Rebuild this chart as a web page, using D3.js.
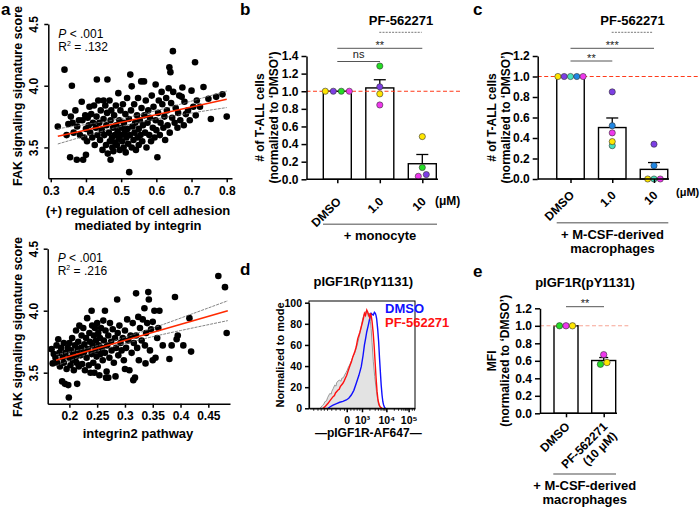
<!DOCTYPE html>
<html><head><meta charset="utf-8">
<script src="https://cdn.jsdelivr.net/npm/d3@7"></script>
<style>body{margin:0;background:#fff}svg{display:block}text{font-family:"Liberation Sans",Arial,Helvetica,sans-serif}</style>
</head><body>
<svg id="chart" width="700" height="508"></svg>
<script>
// ---------------- DATA ----------------
// panel a (top): (+) regulation of cell adhesion mediated by integrin vs FAK signature
const adhesionPts = [
[0.32,3.67],[0.339,4.13],[0.34,3.78],[0.345,3.60],[0.35,3.69],[0.355,3.42],[0.357,3.75],[0.36,4.0],[0.362,3.70],[0.365,3.62],
[0.37,3.80],[0.374,3.40],[0.375,3.67],[0.38,3.72],[0.383,3.60],[0.388,3.87],[0.39,3.72],[0.392,3.40],[0.395,3.58],[0.398,3.76],
[0.40,3.44],[0.40,3.65],[0.403,3.55],[0.405,3.74],[0.408,3.68],[0.41,3.83],[0.412,3.62],[0.415,3.77],[0.418,3.58],[0.42,3.70],
[0.423,3.84],[0.425,3.52],[0.428,3.66],[0.43,3.75],[0.431,4.05],[0.433,3.60],[0.435,3.88],[0.438,3.70],[0.44,3.56],[0.442,3.80],
[0.445,3.64],[0.447,3.48],[0.45,3.73],[0.45,3.88],[0.452,3.60],[0.455,3.84],[0.457,3.52],[0.458,3.68],[0.46,3.78],[0.461,4.05],
[0.462,3.45],[0.465,3.62],[0.467,3.88],[0.468,3.55],[0.47,3.40],[0.47,3.72],[0.472,3.80],[0.474,3.58],[0.475,3.50],[0.477,3.66],
[0.478,3.47],[0.48,3.76],[0.482,3.60],[0.483,3.54],[0.485,3.84],[0.486,3.68],[0.488,3.52],[0.49,3.63],[0.492,3.94],[0.493,3.57],
[0.495,3.72],[0.496,3.48],[0.498,3.80],[0.50,3.60],[0.502,3.66],[0.503,3.55],[0.505,3.85],[0.507,3.50],[0.508,3.70],[0.51,3.62],
[0.512,3.77],[0.513,3.46],[0.515,3.58],[0.517,3.90],[0.518,3.65],[0.52,3.53],[0.522,3.73],[0.523,3.30],[0.525,3.60],[0.526,4.09],
[0.528,3.80],[0.53,3.995],[0.53,3.50],[0.532,3.67],[0.535,3.56],[0.537,3.85],[0.538,3.62],[0.54,3.70],[0.542,3.48],[0.545,3.76],
[0.547,3.58],[0.548,3.90],[0.55,3.65],[0.55,3.52],[0.553,3.72],[0.555,3.60],[0.557,4.035],[0.558,3.82],[0.56,3.55],[0.562,3.68],
[0.565,4.035],[0.566,3.76],[0.568,3.62],[0.57,3.88],[0.572,3.50],[0.575,3.70],[0.577,3.80],[0.58,3.60],[0.582,3.74],[0.585,3.55],
[0.587,3.92],[0.59,3.66],[0.592,3.83],[0.595,3.58],[0.598,4.01],[0.598,3.72],[0.60,3.64],[0.603,3.42],[0.605,3.78],[0.607,3.88],
[0.61,3.60],[0.612,3.70],[0.615,3.95],[0.617,3.85],[0.62,3.66],[0.623,3.75],[0.625,3.56],[0.628,3.90],[0.63,3.80],[0.632,3.68],
[0.635,3.98],[0.637,4.15],[0.638,3.62],[0.64,4.11],[0.642,3.86],[0.645,3.74],[0.647,4.28],[0.648,3.95],[0.652,3.70],[0.655,3.82],
[0.66,3.66],[0.662,3.78],[0.665,3.92],[0.668,3.72],[0.672,3.91],[0.674,3.985],[0.678,3.68],[0.68,3.87],[0.684,3.77],[0.69,3.80],
[0.695,3.72],[0.70,3.96],[0.705,3.83],[0.71,4.19],[0.712,3.76],[0.715,3.88],[0.724,3.83],[0.734,3.99],[0.748,3.895],[0.755,3.73],
[0.77,3.91],[0.788,3.93],[0.80,3.75]
];
const adhesionFit = [[0.32,3.59],[0.80,3.89]];
const adhesionUpper = [[0.32,3.652],[0.43,3.699],[0.53,3.751],[0.65,3.836],[0.80,3.957]];
const adhesionLower = [[0.32,3.528],[0.43,3.619],[0.53,3.691],[0.65,3.756],[0.80,3.823]];
const adhesionXTicks = [0.3,0.4,0.5,0.6,0.7,0.8];
const scoreYTicks = [3.5,4.0,4.5];

// panel a (bottom): integrin2 pathway vs FAK signature
const integrinPts = [
[0.168,3.69],[0.170,3.575],[0.172,3.65],[0.175,3.62],[0.177,3.72],[0.178,3.58],[0.18,3.77],[0.182,3.66],[0.183,3.55],[0.185,3.70],
[0.187,3.43],[0.188,3.62],[0.19,3.74],[0.19,3.58],[0.192,3.41],[0.193,3.66],[0.195,3.53],[0.197,3.70],[0.198,3.40],[0.199,3.30],
[0.20,3.62],[0.20,3.74],[0.202,3.56],[0.203,3.68],[0.205,3.78],[0.206,3.60],[0.207,3.65],[0.208,3.52],[0.21,3.72],[0.211,3.62],
[0.212,3.84],[0.213,3.58],[0.214,3.41],[0.215,3.68],[0.216,3.75],[0.217,3.55],[0.218,3.88],[0.22,3.64],[0.221,3.70],[0.222,3.80],
[0.223,3.57],[0.225,3.86],[0.226,3.66],[0.227,3.73],[0.228,3.52],[0.23,3.78],[0.231,3.62],[0.232,3.94],[0.233,3.69],[0.235,3.56],
[0.236,3.82],[0.237,3.75],[0.238,3.50],[0.24,4.0],[0.24,3.65],[0.241,3.88],[0.242,3.72],[0.243,3.58],[0.244,3.80],[0.245,3.50],
[0.246,3.86],[0.247,3.68],[0.248,3.76],[0.249,3.63],[0.25,3.90],[0.251,3.55],[0.252,3.82],[0.253,3.72],[0.254,3.48],[0.255,3.78],
[0.256,3.65],[0.257,3.86],[0.258,3.70],[0.26,3.60],[0.261,3.92],[0.262,3.76],[0.264,4.0],[0.264,3.66],[0.265,3.84],[0.266,3.46],
[0.267,3.51],[0.268,3.72],[0.27,3.80],[0.27,3.46],[0.272,3.62],[0.273,3.90],[0.275,3.75],[0.276,3.68],[0.278,3.85],[0.28,3.58],
[0.282,3.78],[0.283,3.47],[0.284,3.70],[0.286,4.09],[0.287,3.82],[0.288,3.64],[0.29,3.88],[0.292,3.74],[0.294,3.68],[0.296,3.78],
[0.298,3.60],[0.30,3.53],[0.30,3.84],[0.302,3.70],[0.304,3.93],[0.306,3.76],[0.308,3.52],[0.31,3.80],[0.312,3.66],[0.314,3.90],
[0.315,3.44],[0.316,3.74],[0.318,3.46],[0.32,4.14],[0.32,3.80],[0.322,3.70],[0.324,3.95],[0.325,3.60],[0.327,3.86],[0.33,3.76],
[0.332,3.93],[0.335,4.02],[0.336,3.72],[0.337,3.575],[0.338,3.82],[0.34,3.90],[0.342,4.15],[0.343,4.09],[0.345,3.68],[0.347,3.85],
[0.35,3.91],[0.35,3.60],[0.353,4.0],[0.355,3.62],[0.358,3.78],[0.36,3.86],[0.362,4.0],[0.368,3.72],[0.38,3.61],[0.384,3.72],
[0.39,4.11],[0.393,3.77],[0.395,3.80],[0.405,3.72],[0.416,3.94],[0.419,3.67],[0.468,4.28],[0.48,4.19],[0.483,3.82]
];
const integrinFit = [[0.176,3.60],[0.485,4.0]];
const integrinUpper = [[0.176,3.645],[0.22,3.685],[0.26,3.731],[0.33,3.829],[0.40,3.94],[0.485,4.08]];
const integrinLower = [[0.176,3.555],[0.22,3.629],[0.26,3.687],[0.33,3.769],[0.40,3.84],[0.485,3.92]];
const integrinXTicks = [0.2,0.25,0.3,0.35,0.4,0.45];

// panel b: + monocyte
const concCats = ["DMSO","1.0","10"];
const monoDonors = ["yellow","purple","green","magenta"];
const monoValues = [ // per donor: DMSO, 1.0, 10
  [1,0.97,0.485],
  [1,1.05,0.054],
  [1,1.286,0.134],
  [1,0.844,0.034]
];
const monoTicks = [0,0.2,0.4,0.6,0.8,1.0,1.2,1.4];

// panel c: + M-CSF-derived macrophages
const macroDonors = ["yellow","purple","teal","blue","magenta"];
const macroValues = [
  [1,0.365,0],
  [1,0.85,0.34],
  [1,0.325,0],
  [1,0.52,0.13],
  [1,0.45,0]
];
const macroTicks = [0,0.2,0.4,0.6,0.8,1.0,1.2];

// panel d: flow histogram (x in display channel units, y % of mode)
const isoHist = [[10.3,0],[12.5,2.5],[14,4],[15,6.3],[16.5,7],[17.5,10],[19.6,14],[21,13.5],[21.5,16],[23,19],[24.3,22],[25.5,21],[26,24],
 [27.5,26],[29,26.8],[30,25.5],[31,28.5],[32.5,29],[33.6,31.5],[35,34],[36,36],[37.2,39],[38.3,41],[40,45],[41.4,48.9],[43,52],[44.6,56.8],
 [46,62],[47.7,69.4],[49,76],[50.7,85],[52,89],[53.9,92],[55,91],[56,87],[57,90],[58,82],[58.6,75.7],[59.5,62],[60.7,44],[62,30],[63.3,19],
 [64.5,10],[65.7,3],[68,0]];
const pf562271Hist = [[13.4,0],[15.5,2],[18,4.7],[20,7.5],[22.7,11],[24,12],[25,14.5],[27.4,17.3],[28.5,18],[29.5,20.5],[32,23.7],[33.2,26],
 [34.5,29],[35.5,31],[36.7,34.7],[38.5,40],[40,44],[41.4,48.9],[43,53],[44.5,58],[46,66],[48,72],[50.2,80.5],[51.3,85],[52.3,90],[53.3,88],
 [54.5,93],[55.5,91],[56.4,88],[57.2,86],[58,90],[58.8,87],[59.5,82],[60.5,72],[61.4,60],[62.3,45],[63.3,28.4],[64.2,16],[65.1,7.9],[66,4],
 [67,1.5],[68.9,0]];
const dmsoHist = [[18,0],[20,1.5],[22.7,3.1],[26,4.5],[29,5.7],[32,6.5],[35.2,7.9],[37.5,9.5],[39.9,12.6],[42.3,17],[44.6,23.7],[47,31],
 [49.3,39.4],[51,50],[52.3,60],[53.4,66],[54.5,72.5],[55.8,78],[57,83.6],[57.8,87],[58.6,90],[59.6,89],[60.7,88.4],[61.7,91],[62.6,90],
 [63.2,88],[63.8,85],[64.8,75],[65.7,63],[66.5,48],[67.3,34.7],[68.1,22],[68.9,12.6],[69.7,6],[70.4,3.1],[71.2,1],[72,0]];
const flowMajorTicks = [35.6,50,73,94];
const flowMajorLabels = ["0","10³","10⁴","10⁵"];
const flowMinorTicks = [4,8,11,14,17,21,25,29,33,39,42,45,47.5,57,62,65,67.5,69.5,71,72.3,80,84,87,89,90.5,91.8,92.8,97,99];
const flowYTicks = [0,20,40,60,80,100];

// panel e: pIGF1R MFI
const mfiCats = ["DMSO","PF-562271\n(10 μM)"];
const mfiDonors = ["green","magenta","yellow"];
const mfiValues = [
  [1,0.56],
  [1,0.67],
  [1,0.58]
];
const mfiTicks = [0,0.2,0.4,0.6,0.8,1.0,1.2];

const donorColor = {yellow:"#ffe600",purple:"#7d3fe4",green:"#25dd25",magenta:"#ee38ec",blue:"#1f86e2",teal:"#47e2bc"};

// ---------------- DRAW ----------------
const FONT = '"Liberation Sans",Arial,Helvetica,sans-serif';
const svg = d3.select("#chart");

function txt(g, x, y, s, o={}) {
  const t = g.append("text").attr("x",x).attr("y",y).text(s)
    .attr("font-size",o.size||12).attr("font-weight",o.weight||"bold")
    .attr("text-anchor",o.anchor||"start").attr("fill",o.fill||"#000");
  if (o.rotate) t.attr("transform",`rotate(${o.rotate},${x},${y})`);
  if (o.style) t.attr("font-style",o.style);
  return t;
}
function styleAxis(a, size) {
  a.select(".domain").attr("stroke","#000").attr("stroke-width",1.5);
  a.selectAll(".tick line").attr("stroke","#000").attr("stroke-width",1.5);
  a.selectAll(".tick text").attr("font-family",FONT).attr("font-weight","bold").attr("font-size",size).attr("fill","#000");
}

// panel letters
[["a",1,15],["b",240,15],["c",473,15],["d",240,275],["e",473,277]].forEach(([s,x,y])=>txt(svg,x,y,s,{size:17}));

function scatterPanel(o){
  const g = svg.append("g");
  const x = d3.scaleLinear().domain(o.xDom).range(o.xRange);
  const y = d3.scaleLinear().domain(o.yDom).range(o.yRange);
  g.selectAll("circle").data(o.pts).join("circle")
    .attr("cx",d=>x(d[0])).attr("cy",d=>y(d[1])).attr("r",3.3).attr("fill","#000");
  const band = d3.line().curve(d3.curveNatural).x(d=>x(d[0])).y(d=>y(d[1]));
  [o.up,o.lo].forEach(b=>g.append("path").datum(b).attr("d",band).attr("fill","none")
    .attr("stroke","#666").attr("stroke-width",0.8).attr("stroke-dasharray","3,1"));
  g.append("path").datum(o.fit).attr("d",d3.line().x(d=>x(d[0])).y(d=>y(d[1])))
    .attr("stroke","#ff2a00").attr("stroke-width",1.6).attr("fill","none");
  const ax = g.append("g").attr("transform",`translate(0,${o.yRange[0]})`)
    .call(d3.axisBottom(x).tickValues(o.xTicks).tickFormat(d=>String(d)).tickSize(4).tickSizeOuter(0).tickPadding(4));
  styleAxis(ax,12);
  const ay = g.append("g").attr("transform",`translate(${o.xRange[0]},0)`)
    .call(d3.axisLeft(y).tickValues(scoreYTicks).tickFormat(d3.format(".1f")).tickSize(4).tickSizeOuter(0));
  styleAxis(ay,12);
  ay.selectAll(".tick text").attr("x",0).attr("y",-10).attr("dy",0).attr("text-anchor","middle").attr("transform","rotate(-90)");
  const px = o.xRange[0]+10;
  txt(g,px,o.pY,"",{size:12,weight:"normal"}).call(t=>{
    t.append("tspan").attr("font-style","italic").text("P");
    t.append("tspan").text(" < .001");
  });
  txt(g,px,o.pY+13,"",{size:12,weight:"normal"}).call(t=>{
    t.append("tspan").text("R");
    t.append("tspan").attr("font-size",7).attr("dy",-5).text("2");
    t.append("tspan").attr("dy",5).text(" = "+o.r2);
  });
  txt(g,21.5,o.yTitleC,"FAK signaling signature score",{size:12.5,anchor:"middle",rotate:-90});
  o.xTitle.forEach((s,i)=>txt(g,138,o.xTitleY+i*15,s,{size:13,anchor:"middle"}));
}

scatterPanel({pts:adhesionPts,fit:adhesionFit,up:adhesionUpper,lo:adhesionLower,
  xDom:[0.293,0.815],xRange:[48.3,232],yDom:[3.25,4.5],yRange:[178.3,24],xTicks:adhesionXTicks,
  pY:38,r2:".132",yTitleC:96,xTitle:["(+) regulation of cell adhesion","mediated by integrin"],xTitleY:214.5});
scatterPanel({pts:integrinPts,fit:integrinFit,up:integrinUpper,lo:integrinLower,
  xDom:[0.161,0.489],xRange:[47.7,230],yDom:[3.25,4.5],yRange:[403.7,248.7],xTicks:integrinXTicks,
  pY:262,r2:".216",yTitleC:327,xTitle:["integrin2 pathway"],xTitleY:438});

function swarm(items, y, thresh, spacing){
  const s = items.slice().sort((a,b)=>a.v-b.v || a.i-b.i);
  const rows=[];
  s.forEach(d=>{
    const last = rows[rows.length-1];
    if (last && Math.abs(y(last[0].v)-y(d.v))<=thresh) last.push(d); else rows.push([d]);
  });
  rows.forEach(r=>r.forEach((d,k)=>d.off=(k-(r.length-1)/2)*spacing));
  return s;
}

function barPanel(o){
  const g = svg.append("g");
  const x = d3.scalePoint().domain(o.cats).range(o.centers);
  const y = d3.scaleLinear().domain([0,o.yMax]).range([o.y0,o.yTop]);
  const groups = o.cats.map((c,ci)=>o.values.map((row,di)=>({v:row[ci],c:o.donors[di],i:di})));
  const means = groups.map(gr=>d3.mean(gr,d=>d.v));
  const sems = groups.map(gr=>(d3.deviation(gr,d=>d.v)||0)/Math.sqrt(gr.length));
  g.selectAll("rect").data(o.cats).join("rect")
    .attr("x",c=>x(c)-o.barW/2).attr("y",(c,i)=>y(means[i])).attr("width",o.barW)
    .attr("height",(c,i)=>o.y0-y(means[i])).attr("fill","#fff").attr("stroke","#000").attr("stroke-width",1.4);
  o.cats.forEach((c,i)=>{
    if (sems[i] < 0.005) return;
    const cx = x(c), top = y(means[i]+sems[i]);
    g.append("line").attr("x1",cx).attr("x2",cx).attr("y1",y(means[i])).attr("y2",top).attr("stroke","#000").attr("stroke-width",1.3);
    g.append("line").attr("x1",cx-o.cap/2).attr("x2",cx+o.cap/2).attr("y1",top).attr("y2",top).attr("stroke","#000").attr("stroke-width",1.3);
  });
  g.append("line").attr("x1",o.yAxisX).attr("x2",o.refEnd).attr("y1",y(1)).attr("y2",y(1))
    .attr("stroke",o.refColor).attr("stroke-width",1.1).attr("stroke-dasharray","4,2.5");
  groups.forEach((gr,ci)=>{
    swarm(gr,y,3,o.spacing).forEach(d=>{
      g.append("circle").attr("cx",x(o.cats[ci])+d.off).attr("cy",y(d.v)).attr("r",o.r)
        .attr("fill",donorColor[d.c]).attr("stroke","#333").attr("stroke-width",0.6);
    });
  });
  // axes
  const ay = g.append("g").attr("transform",`translate(${o.yAxisX},0)`)
    .call(d3.axisLeft(y).tickValues(o.ticks).tickFormat(d3.format(".1f")).tickSize(5).tickSizeOuter(0).tickPadding(3));
  styleAxis(ay,12);
  g.append("line").attr("x1",o.yAxisX).attr("x2",o.xAxisEnd).attr("y1",o.y0).attr("y2",o.y0).attr("stroke","#000").attr("stroke-width",1.5);
  const ax = g.append("g").attr("transform",`translate(0,${o.y0})`)
    .call(d3.axisBottom(x).tickSize(4).tickSizeOuter(0));
  ax.select(".domain").remove();
  styleAxis(ax,12);
  ax.selectAll(".tick text").each(function(d){
    const t = d3.select(this).text(null).attr("x",0).attr("y",0).attr("dy",0).attr("text-anchor","end")
      .attr("transform",`translate(${o.lblDx},${o.lblDy}) rotate(-45)`);
    d.split("\n").forEach((s,k)=>t.append("tspan").attr("x",0).attr("dy",k?"1.1em":0).text(s));
  });
  return {g,x,y};
}

function bracket(g,x1,x2,y,label){
  g.append("line").attr("x1",x1).attr("x2",x2).attr("y1",y).attr("y2",y).attr("stroke","#555").attr("stroke-width",1);
  const ns = label==="ns";
  txt(g,(x1+x2)/2,ns?y-4:y+0.5,label,{size:11,weight:"normal",anchor:"middle",fill:"#222"});
}
function dashed(g,x1,x2,y){
  g.append("line").attr("x1",x1).attr("x2",x2).attr("y1",y).attr("y2",y).attr("stroke","#777").attr("stroke-width",1).attr("stroke-dasharray","2,1.2");
}
function groupLabel(g,x1,x2,y,lines){
  g.append("line").attr("x1",x1).attr("x2",x2).attr("y1",y).attr("y2",y).attr("stroke","#888").attr("stroke-width",1.6);
  lines.forEach((s,i)=>txt(g,(x1+x2)/2,y+16+i*14,s,{size:13,anchor:"middle"}));
}

// panel b
const pb = barPanel({cats:concCats,donors:monoDonors,values:monoValues,centers:[337.3,422.3],yMax:1.4,y0:179.3,yTop:56,
  barW:28,cap:12,r:3.1,spacing:8,yAxisX:306.5,xAxisEnd:438,refEnd:462,refColor:"#ff3a1a",ticks:monoTicks,lblDx:4,lblDy:23});
txt(pb.g,401,25,"PF-562271",{size:13,anchor:"middle"});
dashed(pb.g,379.3,421.7,32.3);
bracket(pb.g,337.3,422.3,48.3,"**");
bracket(pb.g,337.3,380,61.5,"ns");
txt(pb.g,435,205,"(μM)",{size:12});
txt(pb.g,264.5,117.6,"# of T-ALL cells",{size:12,anchor:"middle",rotate:-90});
txt(pb.g,277.8,117.6,"(normalized to ‘DMSO’)",{size:12,anchor:"middle",rotate:-90});
groupLabel(pb.g,323,437,224.3,["+ monocyte"]);

// panel c
const pc = barPanel({cats:concCats,donors:macroDonors,values:macroValues,centers:[570.5,654],yMax:1.2,y0:179,yTop:56,
  barW:27.5,cap:12,r:3.1,spacing:6.3,yAxisX:537.7,xAxisEnd:669,refEnd:700,refColor:"#ff3a1a",ticks:macroTicks,lblDx:4,lblDy:17});
txt(pc.g,632.5,25,"PF-562271",{size:13,anchor:"middle"});
dashed(pc.g,611.7,653.3,32.3);
bracket(pc.g,570.5,654,48.3,"***");
bracket(pc.g,570.5,612.3,61,"**");
txt(pc.g,676,196,"(μM)",{size:11});
txt(pc.g,496,117.5,"# of T-ALL cells",{size:12,anchor:"middle",rotate:-90});
txt(pc.g,509.5,117.5,"(normalized to ‘DMSO’)",{size:12,anchor:"middle",rotate:-90});
groupLabel(pc.g,556.7,668.3,222.7,["+ M-CSF-derived","macrophages"]);

// panel e
const pe = barPanel({cats:mfiCats,donors:mfiDonors,values:mfiValues,centers:[566,603.7],yMax:1.2,y0:413.3,yTop:308.3,
  barW:24,cap:9,r:3.2,spacing:6.5,yAxisX:540,xAxisEnd:617,refEnd:628.3,refColor:"#f7a595",ticks:mfiTicks,lblDx:4,lblDy:14});
txt(pe.g,585,287,"pIGF1R(pY1131)",{size:13,anchor:"middle"});
bracket(pe.g,566,604,306.7,"**");
txt(pe.g,496,360.8,"MFI",{size:12,anchor:"middle",rotate:-90});
txt(pe.g,509.5,360.8,"(normalized to ‘DMSO’)",{size:12,anchor:"middle",rotate:-90});
groupLabel(pe.g,553.3,616,474,["+ M-CSF-derived","macrophages"]);

// panel d
(function(){
  const g = svg.append("g");
  const L=309,R=415,T=301,B=408.3;
  const x = d3.scaleLinear().domain([0,100]).range([L,R]);
  const y = d3.scaleLinear().domain([0,100]).range([B,302.7]);
  const area = d3.area().x(d=>x(d[0])).y0(B).y1(d=>y(d[1]));
  const line = d3.line().x(d=>x(d[0])).y(d=>y(d[1]));
  g.append("path").datum(isoHist).attr("d",area).attr("fill","#e3e3e3").attr("stroke","#9a9a9a").attr("stroke-width",1);
  g.append("path").datum(dmsoHist).attr("d",line).attr("fill","none").attr("stroke","#1010ff").attr("stroke-width",1.4);
  g.append("path").datum(pf562271Hist).attr("d",line).attr("fill","none").attr("stroke","#ff1010").attr("stroke-width",1.4);
  g.append("rect").attr("x",L).attr("y",T).attr("width",R-L).attr("height",B-T).attr("fill","none").attr("stroke","#000").attr("stroke-width",1);
  const ay = g.append("g").attr("transform",`translate(${L},0)`)
    .call(d3.axisLeft(y).tickValues(flowYTicks).tickSize(4).tickSizeOuter(0).tickPadding(3));
  styleAxis(ay,10.5);
  ay.select(".domain").attr("stroke-width",1.2);
  const ax = g.append("g").attr("transform",`translate(0,${B})`)
    .call(d3.axisBottom(x).tickValues(flowMajorTicks).tickFormat((d,i)=>flowMajorLabels[i]).tickSize(4).tickSizeOuter(0).tickPadding(4));
  styleAxis(ax,10.5);
  ax.select(".domain").attr("stroke-width",1.2);
  g.append("g").attr("transform",`translate(0,${B})`)
    .call(d3.axisBottom(x).tickValues(flowMinorTicks).tickFormat("").tickSize(2.5).tickSizeOuter(0))
    .call(a=>{a.select(".domain").remove();a.selectAll("line").attr("stroke","#000").attr("stroke-width",0.8);});
  txt(g,363.3,286,"pIGF1R(pY1131)",{size:13,anchor:"middle"});
  txt(g,284,355,"Normalized to mode",{size:11,anchor:"middle",rotate:-90});
  txt(g,368.3,437,"—pIGF1R-AF647—",{size:12,anchor:"middle"});
  txt(g,385,313,"DMSO",{size:13,fill:"#1010ff"});
  txt(g,385,326.5,"PF-562271",{size:13,fill:"#ff1010"});
})();
</script>
</body></html>
